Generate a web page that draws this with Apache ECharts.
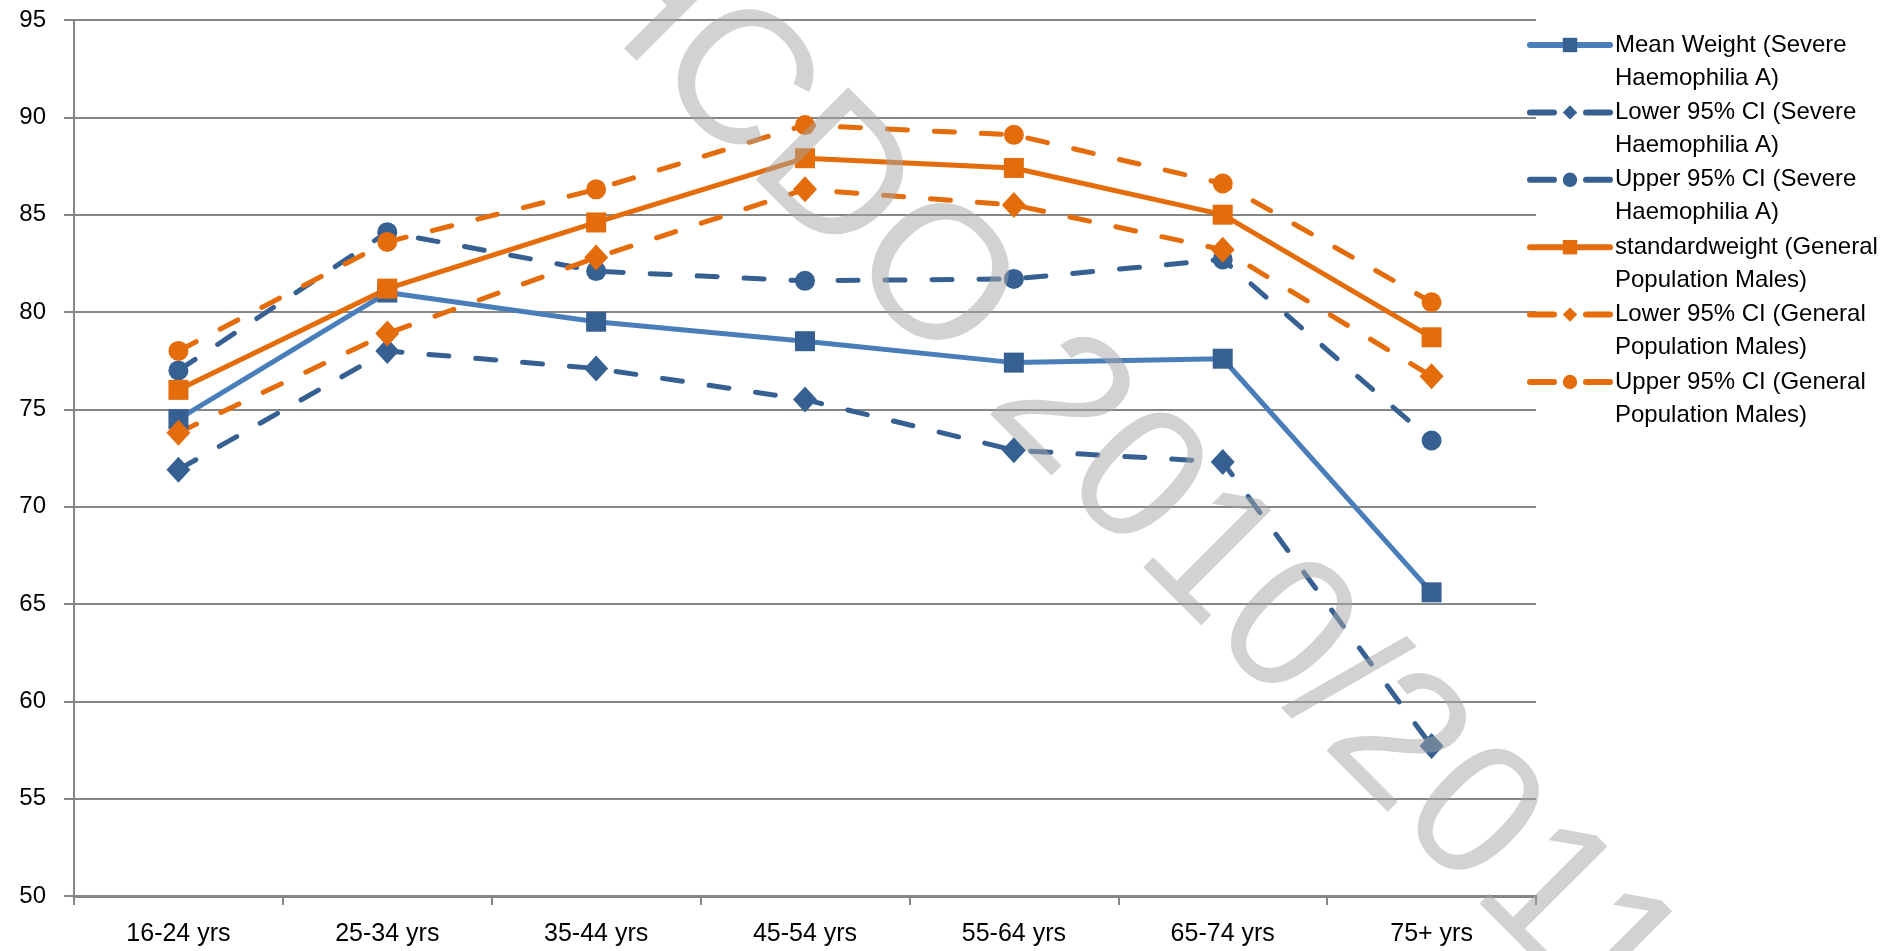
<!DOCTYPE html>
<html>
<head>
<meta charset="utf-8">
<script src="https://cdn.jsdelivr.net/npm/echarts@6/dist/echarts.min.js"></script>
<style>
html,body{margin:0;padding:0;background:#fff;}
#chart{width:1904px;height:951px;}
</style>
</head>
<body>
<div id="chart"></div>
<script>
const categories = ['16-24 yrs','25-34 yrs','35-44 yrs','45-54 yrs','55-64 yrs','65-74 yrs','75+ yrs'];
const meanWeight = [74.5, 81.0, 79.5, 78.5, 77.4, 77.6, 65.6];
const lowerSevere = [71.9, 78.0, 77.1, 75.5, 72.9, 72.3, 57.7];
const upperSevere = [77.0, 84.1, 82.1, 81.6, 81.7, 82.7, 73.4];
const standardWeight = [76.0, 81.2, 84.6, 87.9, 87.4, 85.0, 78.7];
const lowerGeneral = [73.8, 78.9, 82.8, 86.3, 85.5, 83.2, 76.7];
const upperGeneral = [78.0, 83.6, 86.3, 89.6, 89.1, 86.6, 80.5];
const seriesNames = [
  'Mean Weight (Severe Haemophilia A)',
  'Lower 95% CI (Severe Haemophilia A)',
  'Upper 95% CI (Severe Haemophilia A)',
  'standardweight (General Population Males)',
  'Lower 95% CI (General Population Males)',
  'Upper 95% CI (General Population Males)'
];
const yTicks = {min: 50, max: 95, interval: 5};
const watermarkText = 'UKHCDO 2010/2011';

const BLUE_LINE = '#4a7ebb';
const BLUE = '#376092';
const ORANGE = '#e46c0a';
const DASH = [20, 27];

function mk(name, data, color, markerColor, symbol, size, dashed) {
  return {
    name: name,
    type: 'line',
    data: data,
    symbol: symbol,
    symbolSize: size,
    showSymbol: true,
    lineStyle: {color: color, width: 5, type: dashed ? DASH : 'solid', cap: 'round', join: 'round'},
    itemStyle: {color: markerColor, borderWidth: 0},
    emphasis: {disabled: true},
    animation: false
  };
}

const series = [
  mk(seriesNames[0], meanWeight, BLUE_LINE, BLUE, 'rect', 20, false),
  mk(seriesNames[1], lowerSevere, BLUE, BLUE, 'diamond', [24, 26], true),
  mk(seriesNames[2], upperSevere, BLUE, BLUE, 'circle', 20, true),
  mk(seriesNames[3], standardWeight, ORANGE, ORANGE, 'rect', 20, false),
  mk(seriesNames[4], lowerGeneral, ORANGE, ORANGE, 'diamond', [24, 26], true),
  mk(seriesNames[5], upperGeneral, ORANGE, ORANGE, 'circle', 20, true)
];

const legendData = seriesNames.map(function (n, i) {
  const dashed = (i % 3) !== 0;
  return {name: n, lineStyle: {type: dashed ? [24, 32] : 'solid', width: 6, cap: 'round'}};
});

const chart = echarts.init(document.getElementById('chart'), null, {renderer: 'canvas'});
chart.setOption({
  backgroundColor: '#ffffff',
  animation: false,
  grid: {left: 74, right: 368, top: 20, bottom: 55, containLabel: false},
  xAxis: {
    type: 'category',
    data: categories,
    boundaryGap: true,
    axisLine: {lineStyle: {color: '#868686', width: 3}},
    axisTick: {show: true, length: 9, lineStyle: {color: '#868686', width: 2}},
    axisLabel: {color: '#000', fontFamily: 'Liberation Sans', fontSize: 25, margin: 26}
  },
  yAxis: {
    type: 'value',
    min: yTicks.min, max: yTicks.max, interval: yTicks.interval,
    axisLine: {show: true, lineStyle: {color: '#868686', width: 2}},
    axisTick: {show: true, length: 10, lineStyle: {color: '#868686', width: 2}},
    splitLine: {lineStyle: {color: '#868686', width: 2}},
    axisLabel: {color: '#000', fontFamily: 'Liberation Sans', fontSize: 24, margin: 28}
  },
  legend: {
    orient: 'vertical',
    left: 1527,
    top: -4.5,
    padding: 0,
    itemWidth: 80,
    itemHeight: 18,
    itemGap: -31.6,
    selectedMode: false,
    data: legendData,
    textStyle: {color: '#000', fontFamily: 'Liberation Sans', fontSize: 24, lineHeight: 33},
    formatter: function (name) {
      const i = name.indexOf(' (');
      const j = name.indexOf(' ', i + 2);
      return '\n' + name.slice(0, j) + '\n' + name.slice(j + 1);
    }
  },
  series: series,
  graphic: [{
    type: 'text',
    x: 401, y: -249,
    rotation: -45 * Math.PI / 180,
    z: 100,
    silent: true,
    style: {
      text: watermarkText,
      fill: '#a6a6a6',
      opacity: 0.5,
      font: '190px "Liberation Sans"',
      textAlign: 'left',
      textVerticalAlign: 'middle'
    }
  }]
});
</script>
</body>
</html>
